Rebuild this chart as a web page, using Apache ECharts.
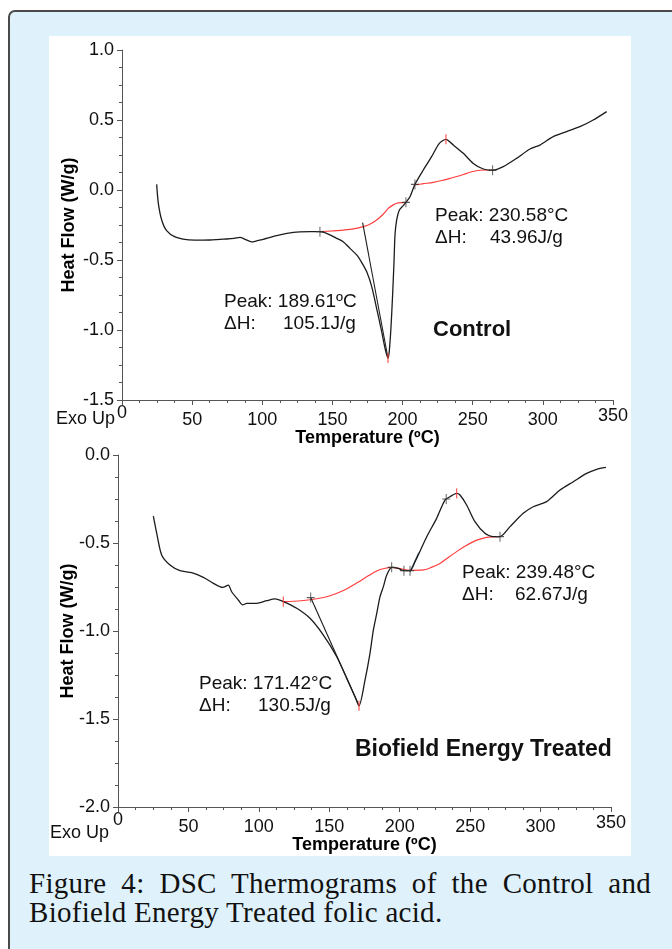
<!DOCTYPE html>
<html>
<head>
<meta charset="utf-8">
<script src="https://cdn.jsdelivr.net/npm/echarts@6/dist/echarts.min.js"></script>
<style>
  html,body{margin:0;padding:0;background:#fff;}
  body{width:672px;height:949px;overflow:hidden;position:relative;}
  #frame{position:absolute;left:8px;top:10px;width:700px;height:1000px;border:2px solid #4a4a4a;border-radius:7px;background:#dff1fb;box-sizing:border-box;}
  #chart{position:absolute;left:49px;top:36px;width:582px;height:820px;background:#fff;}
  #cap{position:absolute;left:29px;top:869px;width:622px;font-family:"Liberation Serif","Times New Roman",serif;font-size:29px;letter-spacing:0.3px;line-height:29px;text-align:justify;color:#111;}
</style>
</head>
<body>
<div id="frame"></div>
<div id="chart"></div>
<div id="cap">Figure 4: DSC Thermograms of the Control and Biofield Energy Treated folic acid.</div>
<script>
// ---------- tick labels ----------
const tempTicks = [0, 50, 100, 150, 200, 250, 300, 350];
const ctlTicks = [-1.5, -1.0, -0.5, 0.0, 0.5, 1.0];
const trtTicks = [-2.0, -1.5, -1.0, -0.5, 0.0];

// ---------- Control thermogram ----------
const ctlT = [24.7, 25.9, 28.3, 31.8, 37.8, 46.1, 55, 62.7, 70, 74.6, 80, 84.1, 87.7, 92.4, 96.5, 100.7, 110.2, 122.1, 134, 141.1, 147, 153, 157.7, 162.5, 167.3, 171, 174.4, 178, 181.5, 185.1, 187.5, 189.6, 190.5, 191.7, 192.9, 193.9, 194.6, 195.8, 197.7, 200.5, 202.4, 205.3, 208.8, 214.8, 220.7, 226.2, 230.9, 236.2, 243.3, 250.4, 257.6, 264.2, 271.8, 281.3, 290.8, 297.9, 307.4, 317, 326.4, 335.9, 345.5];
const ctlV = [0.04, -0.095, -0.214, -0.29, -0.335, -0.355, -0.358, -0.357, -0.352, -0.35, -0.345, -0.338, -0.352, -0.371, -0.362, -0.352, -0.326, -0.302, -0.298, -0.298, -0.315, -0.345, -0.369, -0.417, -0.464, -0.52, -0.583, -0.69, -0.845, -1.012, -1.131, -1.2, -1.155, -0.988, -0.75, -0.512, -0.321, -0.214, -0.143, -0.112, -0.088, -0.048, 0.04, 0.143, 0.238, 0.333, 0.362, 0.321, 0.262, 0.19, 0.15, 0.141, 0.167, 0.226, 0.293, 0.321, 0.381, 0.417, 0.452, 0.5, 0.56];
const ctlBase1T = [141.1, 150, 157.7, 165, 172, 177, 181.5, 186, 189.8, 193, 195.8, 199, 202.4];
const ctlBase1V = [-0.298, -0.292, -0.286, -0.278, -0.262, -0.243, -0.214, -0.175, -0.131, -0.108, -0.095, -0.09, -0.088];
const ctlBase2T = [208.8, 215, 221.9, 228, 233.8, 240, 245.7, 250, 255.2, 260, 264.2];
const ctlBase2V = [0.036, 0.045, 0.055, 0.068, 0.083, 0.1, 0.119, 0.132, 0.141, 0.143, 0.141];
const ctlTanT = [171.5, 189.6];
const ctlTanV = [-0.233, -1.2];
const ctlMarkT = [141.1, 202.4, 208.8, 264.2];
const ctlMarkV = [-0.298, -0.088, 0.04, 0.141];
const ctlPeakT = [189.6, 230.9];
const ctlPeakV = [-1.2, 0.362];
const ctlPeakLabels = ['189.61ºC', '230.58°C'];
const ctlDH = ['105.1J/g', '43.96J/g'];

// ---------- Biofield Energy Treated thermogram ----------
const trtT = [25.1, 27.5, 31, 36.9, 44, 52.3, 60.6, 67.7, 74.3, 78.3, 80.7, 85.4, 88.5, 91.4, 98.5, 105.6, 111.5, 117.4, 126.9, 136.3, 145.8, 155.3, 163.5, 168.3, 171.1, 175.4, 178.9, 181.3, 183.7, 186, 188.4, 190.8, 194.3, 199, 202.6, 207.3, 210.9, 219.1, 226.2, 232.1, 235.7, 240.4, 242.8, 247.5, 253.4, 260.5, 266.4, 271.2, 278.3, 287.7, 294.8, 304.3, 313.8, 323.2, 332.7, 339.8, 346.4];
const trtV = [-0.347, -0.445, -0.568, -0.625, -0.657, -0.669, -0.695, -0.729, -0.752, -0.739, -0.777, -0.824, -0.852, -0.843, -0.843, -0.828, -0.818, -0.833, -0.871, -0.928, -1.023, -1.146, -1.288, -1.373, -1.425, -1.278, -1.127, -0.994, -0.9, -0.805, -0.748, -0.682, -0.638, -0.644, -0.657, -0.657, -0.606, -0.466, -0.36, -0.256, -0.237, -0.218, -0.227, -0.284, -0.379, -0.445, -0.464, -0.464, -0.407, -0.331, -0.294, -0.265, -0.199, -0.152, -0.104, -0.081, -0.07];
const trtBaseT = [117.4, 130, 140, 150, 160, 170, 178, 184, 189, 194.3, 200, 207.3, 216.8, 222, 228.6, 234, 240.4, 246, 252.3, 257, 261.7, 266, 271.2];
const trtBaseV = [-0.833, -0.828, -0.818, -0.801, -0.77, -0.725, -0.685, -0.658, -0.645, -0.638, -0.645, -0.655, -0.653, -0.64, -0.616, -0.585, -0.549, -0.52, -0.492, -0.478, -0.468, -0.465, -0.464];
const trtTanT = [136.8, 171.1];
const trtTanV = [-0.81, -1.425];
const trtTan2T = [207.3, 213.5];
const trtTan2V = [-0.665, -0.555];
const trtMarkT = [136.8, 194.3, 203, 207.3, 233, 271.2];
const trtMarkV = [-0.81, -0.638, -0.657, -0.657, -0.25, -0.464];
const trtPeakT = [117.4, 171.1, 240.4];
const trtPeakV = [-0.833, -1.425, -0.218];
const trtPeakLabels = ['171.42°C', '239.48°C'];
const trtDH = ['130.5J/g', '62.67J/g'];

// ---------- build chart ----------
const pairs = (a, b) => a.map((t, i) => [t, b[i]]);
const F = '"Liberation Sans", Arial, sans-serif';
const AX = '#555555';
const TXT = '#111';
const CURVE = '#1c1c1c';
const RED = '#ff3d3d';
const PLUS = 'path://M4.4,0h1.2v10h-1.2z M0,4.4h10v1.2h-10z';

function xAxisCfg(gi) {
  const last = tempTicks[tempTicks.length - 1];
  return {
    type: 'value', gridIndex: gi,
    min: tempTicks[0], max: last, interval: tempTicks[1] - tempTicks[0],
    name: 'Temperature (ºC)', nameLocation: 'middle', nameGap: 29, nameMoveOverlap: false,
    nameTextStyle: {fontFamily: F, fontSize: 18, fontWeight: 'bold', color: '#000'},
    axisLine: {show: true, onZero: false, lineStyle: {color: AX, width: 1}},
    axisTick: {show: true, inside: false, length: 5, lineStyle: {color: AX}},
    minorTick: {show: true, splitNumber: 4, length: 3, lineStyle: {color: AX}},
    splitLine: {show: false}, minorSplitLine: {show: false},
    axisLabel: {
      margin: 4, fontFamily: F, fontSize: 18, color: TXT,
      formatter: v => v === tempTicks[0] ? '{lo|' + v + '}' : (v === last ? '{hi|' + v + '}' : '{n|' + v + '}'),
      rich: {
        lo: {fontFamily: F, fontSize: 18, color: TXT},
        hi: {fontFamily: F, fontSize: 18, color: TXT, padding: [3, 0, 0, 0]},
        n: {fontFamily: F, fontSize: 18, color: TXT, padding: [7, 0, 0, 0]}
      }
    }
  };
}
function yAxisCfg(gi, ticks, gap) {
  return {
    type: 'value', gridIndex: gi,
    min: ticks[0], max: ticks[ticks.length - 1], interval: ticks[1] - ticks[0],
    name: 'Heat Flow (W/g)', nameLocation: 'middle', nameGap: gap, nameMoveOverlap: false,
    nameTextStyle: {fontFamily: F, fontSize: 18, fontWeight: 'bold', color: '#000'},
    axisLine: {show: true, onZero: false, lineStyle: {color: AX, width: 1}},
    axisTick: {show: true, inside: false, length: 5, lineStyle: {color: AX}},
    minorTick: {show: true, splitNumber: 4, length: 3, lineStyle: {color: AX}},
    splitLine: {show: false}, minorSplitLine: {show: false},
    axisLabel: {margin: 8, fontFamily: F, fontSize: 18, color: TXT, formatter: v => v.toFixed(1)}
  };
}
function lineS(gi, T, V, color, width, smooth, z) {
  return {type: 'line', xAxisIndex: gi, yAxisIndex: gi, data: pairs(T, V), showSymbol: false,
    smooth: smooth, lineStyle: {color: color, width: width}, z: z, silent: true};
}
function markS(gi, T, V, color, symbol, size) {
  return {type: 'scatter', xAxisIndex: gi, yAxisIndex: gi, data: pairs(T, V), symbol: symbol,
    symbolSize: size, symbolKeepAspect: false, itemStyle: {color: color}, z: 5, silent: true};
}
function txt(x, y, s, font) {
  return {type: 'text', x: x, y: y, silent: true,
    style: {text: s, fill: TXT, font: font, verticalAlign: 'middle', align: 'left'}};
}
const f19 = '19px ' + F;
const fb22 = 'bold 22px ' + F;
const fb23 = 'bold 23px ' + F;
const f18 = '18px ' + F;

const chart = echarts.init(document.getElementById('chart'), null, {renderer: 'canvas'});
chart.setOption({
  animation: false,
  backgroundColor: '#fff',
  textStyle: {fontFamily: F},
  grid: [
    {left: 73, top: 14, width: 491, height: 350, containLabel: false, outerBoundsMode: 'none'},
    {left: 69, top: 419, width: 493, height: 352, containLabel: false, outerBoundsMode: 'none'}
  ],
  xAxis: [xAxisCfg(0), xAxisCfg(1)],
  yAxis: [yAxisCfg(0, ctlTicks, 44), yAxisCfg(1, trtTicks, 41)],
  series: [
    lineS(0, ctlBase1T, ctlBase1V, RED, 1.2, 0.3, 2),
    lineS(0, ctlBase2T, ctlBase2V, RED, 1.2, 0.3, 2),
    lineS(0, ctlTanT, ctlTanV, CURVE, 1.1, false, 3),
    lineS(0, ctlT, ctlV, CURVE, 1.3, 0.25, 4),
    markS(0, ctlMarkT, ctlMarkV, '#333', PLUS, [8, 10]),
    markS(0, ctlPeakT, ctlPeakV, RED, 'rect', [1.3, 10]),
    lineS(1, trtBaseT, trtBaseV, RED, 1.2, 0.3, 2),
    lineS(1, trtTanT, trtTanV, CURVE, 1.1, false, 3),
    lineS(1, trtTan2T, trtTan2V, '#3d5a73', 1.1, false, 3),
    lineS(1, trtT, trtV, CURVE, 1.3, 0.25, 4),
    markS(1, trtMarkT, trtMarkV, '#333', PLUS, [8, 10]),
    markS(1, trtPeakT, trtPeakV, RED, 'rect', [1.3, 10])
  ],
  graphic: [
    txt(7, 383, 'Exo Up', f18),
    txt(1, 797, 'Exo Up', f18),
    txt(175, 266, 'Peak: ' + ctlPeakLabels[0], f19),
    txt(175, 288, 'ΔH:', f19),
    txt(234, 288, ctlDH[0], f19),
    txt(386, 180, 'Peak: ' + ctlPeakLabels[1], f19),
    txt(386, 202, 'ΔH:', f19),
    txt(441, 202, ctlDH[1], f19),
    txt(384, 294, 'Control', fb22),
    txt(150, 648, 'Peak: ' + trtPeakLabels[0], f19),
    txt(150, 670, 'ΔH:', f19),
    txt(209, 670, trtDH[0], f19),
    txt(413, 537, 'Peak: ' + trtPeakLabels[1], f19),
    txt(413, 559, 'ΔH:', f19),
    txt(466, 559, trtDH[1], f19),
    txt(306, 714, 'Biofield Energy Treated', fb23)
  ]
});
</script>
</body>
</html>
